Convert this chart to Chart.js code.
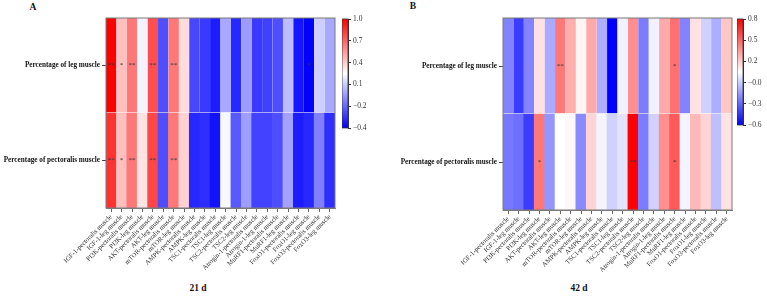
<!DOCTYPE html>
<html><head><meta charset="utf-8">
<script src="https://cdn.jsdelivr.net/npm/chart.js@4.4.1/dist/chart.umd.min.js"></script>
<style>
html,body{margin:0;padding:0;background:#fff;width:767px;height:297px;overflow:hidden;position:relative;font-family:"Liberation Serif","Times New Roman",serif;}
canvas{position:absolute;}
.t{position:absolute;font-weight:bold;font-size:9.5px;color:#111;white-space:nowrap;transform:translate(-50%,-50%);}
</style></head><body>
<div class="t" style="left:33px;top:7px">A</div>
<div class="t" style="left:413px;top:6px">B</div>
<div class="t" style="left:198px;top:288px">21 d</div>
<div class="t" style="left:579px;top:288px">42 d</div>
<canvas id="hA" width="340" height="297" style="left:0;top:0;width:340px;height:297px"></canvas>
<canvas id="cA" width="36" height="125" style="left:342px;top:11px;width:36px;height:125px"></canvas>
<canvas id="hB" width="360" height="297" style="left:380px;top:0;width:360px;height:297px"></canvas>
<canvas id="cB" width="36" height="122" style="left:737px;top:11px;width:36px;height:122px"></canvas>
<script>
const genes = ['IGF-1-pectoralis muscle','IGF-1-leg muscle','PI3K-pectoralis muscle','PI3K-leg muscle',
  'AKT-pectoralis muscle','AKT-leg muscle','mTOR-pectoralis muscle','mTOR-leg muscle',
  'AMPK-pectoralis muscle','AMPK-leg muscle','TSC1-pectoralis muscle','TSC1-leg muscle',
  'TSC2-pectoralis muscle','TSC2-leg muscle','Atrogin-1-pectoralis muscle','Atrogin-1-leg muscle',
  'MuRF1-pectoralis muscle','MuRF1-leg muscle','FoxO1-pectoralis muscle','FoxO1-leg muscle',
  'FoxO3-pectoralis muscle','FoxO3-leg muscle'];
const rows = ['Percentage of leg muscle','Percentage of pectoralis muscle'];

// 21 d (panel A)
const legA = [1.00,0.46,0.66,0.245,0.78,-0.22,0.66,0.38,-0.24,-0.28,-0.36,0.035,-0.33,0.00,-0.28,-0.26,-0.22,0.09,-0.38,-0.44,0.14,0.035];
const pecA = [0.86,0.46,0.66,0.36,0.80,-0.22,0.66,0.41,-0.33,-0.31,-0.39,0.26,-0.19,0.005,-0.25,-0.25,-0.22,0.02,-0.36,-0.33,-0.08,-0.31];
const sigLegA = ['**','*','**','','**','','**','','','','','','','','','','','','','*','',''];
const sigPecA = ['**','*','**','','**','','**','','','','','','','','','','','','','','',''];
const rangeA = [-0.44, 1.0];
const cbTicksA = [-0.44,-0.152,0.136,0.424,0.712,1.0];
const cbLabelsA = ['\u22120.4','\u22120.2','0.1','0.4','0.7','1.0'];

// 42 d (panel B)
const legB = [-0.25,-0.45,-0.25,0.185,-0.14,0.48,0.33,0.13,0.34,-0.13,-0.62,0.06,0.42,-0.27,0.06,0.34,0.50,-0.25,0.185,-0.03,-0.13,0.26];
const pecB = [-0.28,-0.31,-0.45,0.48,-0.20,0.10,0.12,-0.23,0.22,0.07,-0.03,0.02,0.82,-0.27,-0.03,0.42,0.57,0.07,0.30,0.22,-0.08,0.18];
const sigLegB = ['','','','','','**','','','','','','','','','','','*','','','','',''];
const sigPecB = ['','','','*','','','','','','','','','**','','','','*','','','','',''];
const rangeB = [-0.62, 0.82];
const cbTicksB = [-0.62,-0.332,-0.044,0.244,0.532,0.82];
const cbLabelsB = ['\u22120.6','\u22120.3','\u22120.0','0.2','0.5','0.8'];

const SERIF = '"Liberation Serif","Times New Roman",serif';

function bwr(v, vmin, vmax){
  let t = (v - vmin) / (vmax - vmin); t = Math.max(0, Math.min(1, t));
  let r,g,b;
  if (t < 0.5){ r = g = Math.round(255*2*t); b = 255; }
  else { r = 255; g = b = Math.round(255*2*(1-t)); }
  return `rgb(${r},${g},${b})`;
}

const framePlugin = {
  id:'frame',
  afterDraw(chart, args, opts){
    const a = chart.chartArea, c = chart.ctx;
    c.save(); c.strokeStyle = opts.color || '#777'; c.lineWidth = opts.width || 0.8;
    c.strokeRect(a.left, a.top, a.right - a.left, a.bottom - a.top); c.restore();
  }
};

const starPlugin = {
  id:'stars',
  afterDatasetsDraw(chart, args, opts){
    const c = chart.ctx, xs = chart.scales.x, ys = chart.scales.y;
    c.save(); c.fillStyle = '#333'; c.font = '7px ' + SERIF; c.textAlign = 'center'; c.textBaseline = 'middle';
    opts.sets.forEach((s, r) => {
      s.sig.forEach((txt, i) => {
        if (txt) c.fillText(txt, xs.getPixelForValue(i), ys.getPixelForValue(s.center));
      });
    });
    c.restore();
  }
};

function heatmap(id, leg, pec, sigLeg, sigPec, range, yW, xH, padTop, padRight){
  const [vmin, vmax] = range;
  new Chart(document.getElementById(id), {
    type:'bar',
    data:{labels:genes, datasets:[
      {label:rows[1], data:pec.map(()=>1), backgroundColor:pec.map(v=>bwr(v,vmin,vmax)),
       borderWidth:0, barPercentage:1, categoryPercentage:1, stack:'s'},
      {label:rows[0], data:leg.map(()=>1), backgroundColor:leg.map(v=>bwr(v,vmin,vmax)),
       borderWidth:{top:0,left:0,right:0,bottom:1}, borderColor:'rgba(255,255,255,0.85)', borderSkipped:false,
       barPercentage:1, categoryPercentage:1, stack:'s'}
    ]},
    options:{
      responsive:false, animation:false, devicePixelRatio:1,
      layout:{padding:{top:padTop,right:padRight,left:0,bottom:0}},
      plugins:{legend:{display:false}, tooltip:{enabled:false},
        frame:{color:'#7a7a7a', width:1},
        stars:{sets:[{sig:sigPec, center:0.5},{sig:sigLeg, center:1.5}]}},
      scales:{
        x:{type:'category', stacked:true, offset:true,
           grid:{display:true, drawOnChartArea:false, drawTicks:true, tickLength:4, offset:false, color:'#666'},
           border:{display:true, color:'#7a7a7a'},
           ticks:{autoSkip:false, minRotation:45, maxRotation:45, padding:1, color:'#333',
                  font:{family:SERIF, size:6.7}},
           afterFit:(s)=>{ s.height = xH; }},
        y:{type:'linear', stacked:true, min:0, max:2,
           afterBuildTicks:(s)=>{ s.ticks = [{value:0.5},{value:1.5}]; },
           grid:{display:true, drawOnChartArea:false, drawTicks:true, tickLength:4, color:'#444'},
           border:{display:true, color:'#7a7a7a'},
           ticks:{padding:2, color:'#111', font:{family:SERIF, size:7.2, weight:'bold'},
                  callback:(v)=> v > 1 ? rows[0] : rows[1]},
           afterFit:(s)=>{ s.width = yW; }}
      }
    },
    plugins:[framePlugin, starPlugin]
  });
}

function colorbar(id, range, ticks, labels){
  const [vmin, vmax] = range;
  new Chart(document.getElementById(id), {
    type:'bar',
    data:{labels:[''], datasets:[{data:[[vmin, vmax]], borderWidth:0, barPercentage:1, categoryPercentage:1,
      backgroundColor:(c)=>{
        const a = c.chart.chartArea; if (!a) return '#fff';
        const g = c.chart.ctx.createLinearGradient(0, a.bottom, 0, a.top);
        g.addColorStop(0,'#0000ff'); g.addColorStop(0.5,'#ffffff'); g.addColorStop(1,'#ff0000');
        return g;
      }}]},
    options:{
      responsive:false, animation:false, devicePixelRatio:1,
      layout:{padding:{top:8,bottom:8,left:0,right:0}},
      plugins:{legend:{display:false}, tooltip:{enabled:false}, frame:{color:'#333', width:0.8}},
      scales:{
        x:{display:false},
        y:{position:'right', min:vmin, max:vmax,
           afterBuildTicks:(s)=>{ s.ticks = ticks.map(v=>({value:v})); },
           grid:{display:true, drawOnChartArea:false, drawTicks:true, tickLength:3, color:'#333'},
           border:{display:true, color:'#333'},
           ticks:{padding:2, color:'#333', font:{family:SERIF, size:7.5},
                  callback:(v, i)=> labels[i]},
           afterFit:(s)=>{ s.width = 30; }}
      }
    },
    plugins:[framePlugin]
  });
}

heatmap('hA', legA, pecA, sigLegA, sigPecA, rangeA, 106, 89, 18, 5);
colorbar('cA', rangeA, cbTicksA, cbLabelsA);
heatmap('hB', legB, pecB, sigLegB, sigPecB, rangeB, 123, 87, 18, 8);
colorbar('cB', rangeB, cbTicksB, cbLabelsB);
</script>
</body></html>
